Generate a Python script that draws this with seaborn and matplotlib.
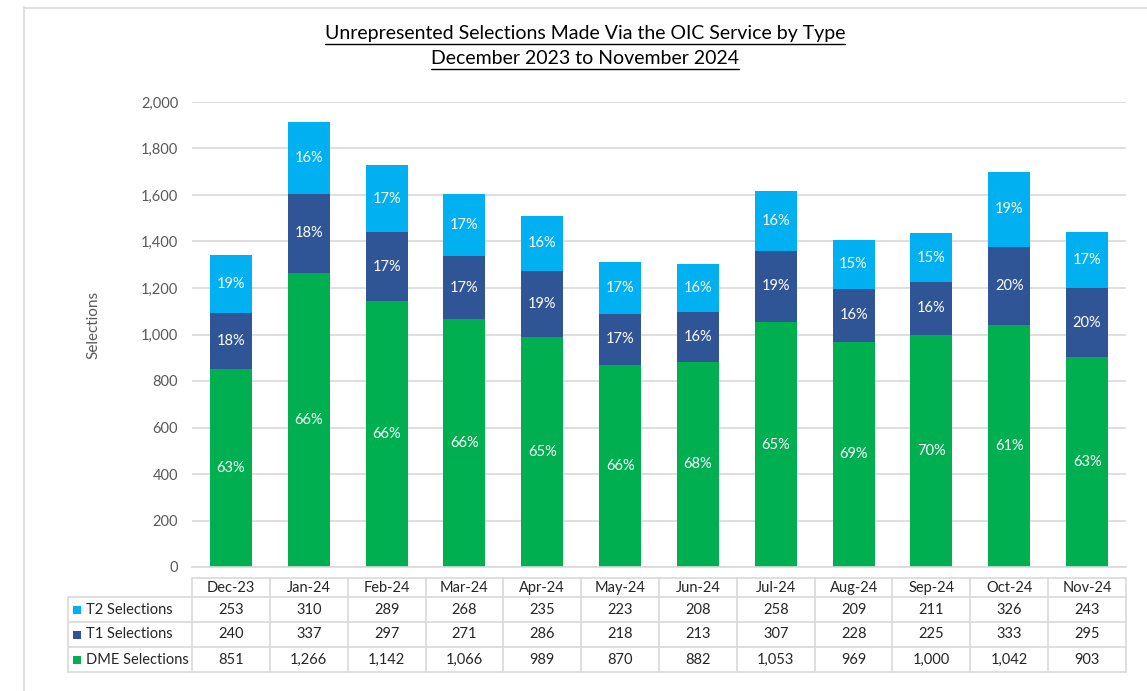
import numpy as np
import pandas as pd
import matplotlib
matplotlib.use("Agg")
import matplotlib.pyplot as plt
import seaborn as sns
from matplotlib.lines import Line2D
from matplotlib.patches import Rectangle
import matplotlib.transforms as mtransforms

# ---------------- data ----------------
months = ["Dec-23", "Jan-24", "Feb-24", "Mar-24", "Apr-24", "May-24",
          "Jun-24", "Jul-24", "Aug-24", "Sep-24", "Oct-24", "Nov-24"]
t2_sel = [253, 310, 289, 268, 235, 223, 208, 258, 209, 211, 326, 243]
t1_sel = [240, 337, 297, 271, 286, 218, 213, 307, 228, 225, 333, 295]
dme_sel = [851, 1266, 1142, 1066, 989, 870, 882, 1053, 969, 1000, 1042, 903]
series_names = ["T2 Selections", "T1 Selections", "DME Selections"]
series_colors = ["#00B0F0", "#2F5597", "#00B050"]
title_lines = ["Unrepresented Selections Made Via the OIC Service by Type",
               "December 2023 to November 2024"]
y_ticks = list(range(0, 2001, 200))

# ---------------- style ----------------
sns.set_theme(style="white")
plt.rcParams["font.family"] = ["Lato", "DejaVu Sans"]
GREY_TXT = "#595959"
GRID = "#D9D9D9"
FS = 10.5

W, H = 1147, 691
fig = plt.figure(figsize=(W / 100, H / 100), dpi=100)
fig.patch.set_facecolor("white")

AX_L, AX_R, AX_T, AX_B = 192, 1126, 102, 567
ax = fig.add_axes([AX_L / W, 1 - AX_B / H, (AX_R - AX_L) / W, (AX_B - AX_T) / H])

df = pd.DataFrame({"month": months, "T2": t2_sel, "T1": t1_sel, "DME": dme_sel})
df["total"] = df["T2"] + df["T1"] + df["DME"]
df["t1top"] = df["T1"] + df["DME"]

bw = 0.54
for col, c in zip(["total", "t1top", "DME"], series_colors):
    sns.barplot(data=df, x="month", y=col, color=c, width=bw, saturation=1,
                errorbar=None, ax=ax, zorder=2, linewidth=0, edgecolor=c)

ax.set_xlim(-0.5, len(months) - 0.5)
ax.set_ylim(0, 2000)
ax.set_yticks(y_ticks)
ax.set_yticklabels([f"{v:,}" for v in y_ticks], color=GREY_TXT, fontsize=FS)
ax.tick_params(axis="y", length=0, pad=10)
ax.tick_params(axis="x", length=0)
ax.set_xticklabels([])
ax.set_xlabel("")
ax.set_ylabel("")
ax.yaxis.grid(True, color=GRID, lw=1.2)
ax.set_axisbelow(True)
for s in ["top", "right", "left"]:
    ax.spines[s].set_visible(False)
ax.spines["bottom"].set_color(GRID)
ax.spines["bottom"].set_linewidth(1.2)

# percentage labels
for i in range(len(months)):
    tot = t2_sel[i] + t1_sel[i] + dme_sel[i]
    segs = [(0, dme_sel[i]), (dme_sel[i], dme_sel[i] + t1_sel[i]),
            (dme_sel[i] + t1_sel[i], tot)]
    vals = [dme_sel[i], t1_sel[i], t2_sel[i]]
    for (lo, hi), v in zip(segs, vals):
        ax.text(i, (lo + hi) / 2, f"{round(v / tot * 100):d}%", ha="center",
                va="center", color="white", fontsize=FS, zorder=3)

# y label
fig.text(93 / W, 1 - 325 / H, "Selections", rotation=90, ha="center",
         va="center", color=GREY_TXT, fontsize=11)

# ---------------- data table ----------------
def fy(px):
    return 1 - px / H

blend = mtransforms.blended_transform_factory(ax.transData, fig.transFigure)
row_edges = [578, 597, 622, 647, 672]
label_left = 68
n = len(months)
fig.add_artist(Line2D([AX_L / W, AX_R / W], [fy(578)] * 2, color=GRID, lw=1.2))
for yy in row_edges[1:]:
    fig.add_artist(Line2D([label_left / W, AX_R / W], [fy(yy)] * 2, color=GRID, lw=1.2))
for k in range(n + 1):
    fig.add_artist(Line2D([k - 0.5, k - 0.5], [fy(578), fy(672)], color=GRID,
                          lw=1.2, transform=blend))
fig.add_artist(Line2D([label_left / W] * 2, [fy(597), fy(672)], color=GRID, lw=1.2))

for i, m in enumerate(months):
    fig.text(i, fy(588), m, transform=blend, ha="center", va="center",
             fontsize=FS, color="#262626")
rows = [t2_sel, t1_sel, dme_sel]
row_centers = [609.5, 634.5, 659.5]
for name, col, vals, yc in zip(series_names, series_colors, rows, row_centers):
    fig.add_artist(Rectangle((73 / W, fy(yc + 4)), 8 / W, 8 / H,
                             transform=fig.transFigure, color=col, lw=0))
    fig.text(86 / W, fy(yc), name, ha="left", va="center", fontsize=FS, color="#262626")
    for i, v in enumerate(vals):
        fig.text(i, fy(yc), f"{v:,}", transform=blend, ha="center", va="center",
                 fontsize=FS, color="#262626")

# ---------------- outer frame ----------------
fig.add_artist(Line2D([23.5 / W, 23.5 / W], [fy(7), 0], color=GRID, lw=1.2))
fig.add_artist(Line2D([23.5 / W, 1], [fy(7.5), fy(7.5)], color=GRID, lw=1.2))

# ---------------- title with underline ----------------
title_texts = []
for line, yc in zip(title_lines, [33, 58]):
    t = fig.text(585 / W, fy(yc), line, ha="center", va="center", fontsize=14,
                 color="black")
    title_texts.append((t, yc))
fig.canvas.draw()
r = fig.canvas.get_renderer()
for t, yc in title_texts:
    bb = t.get_window_extent(renderer=r)
    fig.add_artist(Line2D([bb.x0 / W, bb.x1 / W], [fy(yc + 11)] * 2,
                          color="black", lw=1.0))

fig.savefig("out.png", dpi=100, facecolor="white")
